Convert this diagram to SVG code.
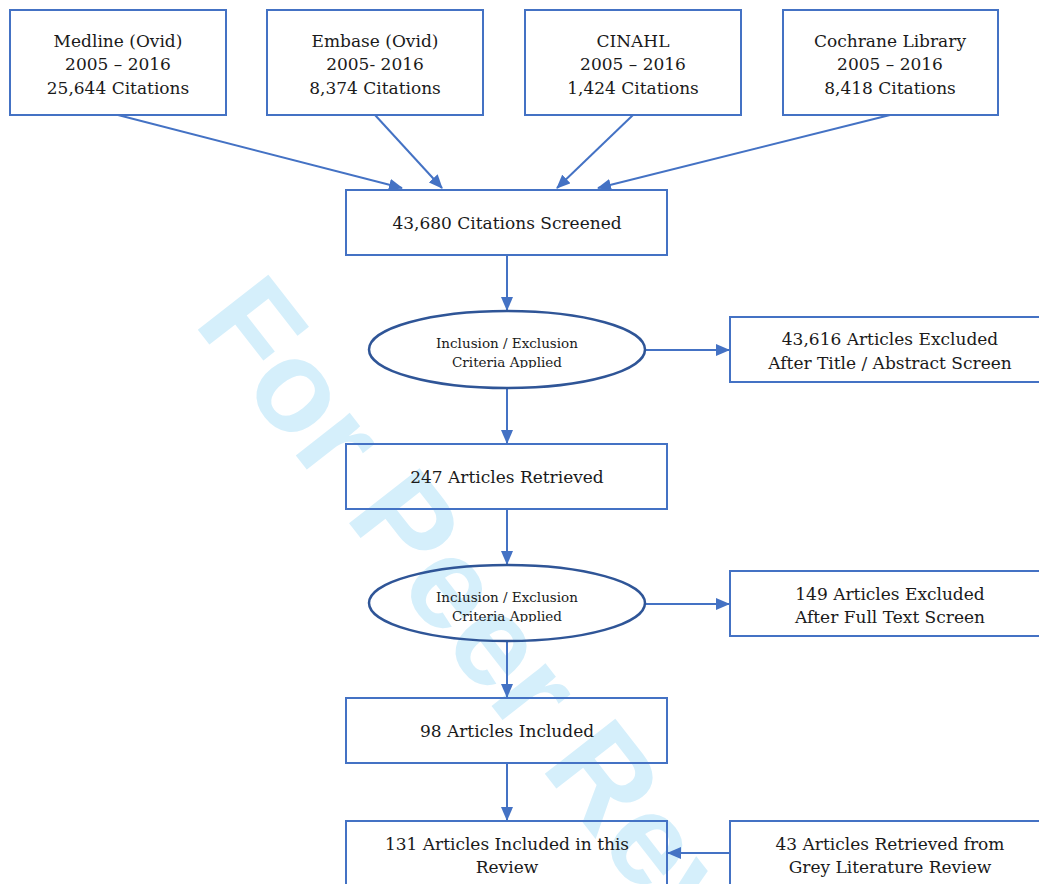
<svg xmlns="http://www.w3.org/2000/svg" width="1039" height="884" viewBox="0 0 1039 884">
  <style>
    .box { fill: none; stroke: #4472C4; stroke-width: 2; }
    .ell { fill: none; stroke: #2F5597; stroke-width: 2.5; }
    .t { font-family: "DejaVu Serif", "Liberation Serif", serif; font-size: 17px; fill: #1a1a1a; text-anchor: middle; }
    .s { font-family: "DejaVu Serif", "Liberation Serif", serif; font-size: 13.5px; fill: #1a1a1a; text-anchor: middle; }
    .con { stroke: #4472C4; stroke-width: 2; fill: none; marker-end: url(#arr); }
    .wm { font-family: "Liberation Sans", Arial, sans-serif; font-weight: bold; font-size: 130px; fill: #D5EFFB; }
  </style>
  <defs>
    <marker id="arr" viewBox="0 0 14 12" refX="13" refY="6" markerWidth="14" markerHeight="12" markerUnits="userSpaceOnUse" orient="auto">
      <path d="M0,0 L14,6 L0,12 Z" fill="#4472C4"/>
    </marker>
    <clipPath id="c1"><rect x="360" y="320" width="300" height="48"/></clipPath>
    <clipPath id="c2"><rect x="360" y="574" width="300" height="48"/></clipPath>
  </defs>
  <rect x="0" y="0" width="1039" height="884" fill="#ffffff"/>
  <text class="wm" transform="translate(192.5,323) rotate(52)">For Peer Review</text>

  <g id="connectors">
    <line class="con" x1="118" y1="115" x2="402" y2="188"/>
    <line class="con" x1="375" y1="115" x2="442" y2="188"/>
    <line class="con" x1="633" y1="115" x2="557" y2="188"/>
    <line class="con" x1="890" y1="115" x2="598" y2="188"/>
    <line class="con" x1="507" y1="255" x2="507" y2="310"/>
    <line class="con" x1="645" y1="350" x2="729" y2="350"/>
    <line class="con" x1="507" y1="388" x2="507" y2="443"/>
    <line class="con" x1="507" y1="509" x2="507" y2="564"/>
    <line class="con" x1="645" y1="604" x2="729" y2="604"/>
    <line class="con" x1="507" y1="641" x2="507" y2="697"/>
    <line class="con" x1="507" y1="763" x2="507" y2="820"/>
    <line class="con" x1="730" y1="853" x2="668" y2="853"/>
  </g>

  <g id="medline">
    <rect class="box" x="10" y="10" width="216" height="105"/>
    <text class="t" x="118" y="47">Medline (Ovid)</text>
    <text class="t" x="118" y="70">2005 – 2016</text>
    <text class="t" x="118" y="94">25,644 Citations</text>
  </g>
  <g id="embase">
    <rect class="box" x="267" y="10" width="216" height="105"/>
    <text class="t" x="375" y="47">Embase (Ovid)</text>
    <text class="t" x="375" y="70">2005- 2016</text>
    <text class="t" x="375" y="94">8,374 Citations</text>
  </g>
  <g id="cinahl">
    <rect class="box" x="525" y="10" width="216" height="105"/>
    <text class="t" x="633" y="47">CINAHL</text>
    <text class="t" x="633" y="70">2005 – 2016</text>
    <text class="t" x="633" y="94">1,424 Citations</text>
  </g>
  <g id="cochrane">
    <rect class="box" x="783" y="10" width="215" height="105"/>
    <text class="t" x="890" y="47">Cochrane Library</text>
    <text class="t" x="890" y="70">2005 – 2016</text>
    <text class="t" x="890" y="94">8,418 Citations</text>
  </g>
  <g id="screened">
    <rect class="box" x="346" y="190" width="321" height="65"/>
    <text class="t" x="507" y="229">43,680 Citations Screened</text>
  </g>
  <g id="criteria1">
    <ellipse class="ell" cx="507" cy="349.5" rx="138" ry="38.5"/>
    <g clip-path="url(#c1)">
      <text class="s" x="507" y="348">Inclusion / Exclusion</text>
      <text class="s" x="507" y="367">Criteria Applied</text>
    </g>
  </g>
  <g id="excluded1">
    <rect class="box" x="730" y="317" width="330" height="65"/>
    <text class="t" x="890" y="345">43,616 Articles Excluded</text>
    <text class="t" x="890" y="369">After Title / Abstract Screen</text>
  </g>
  <g id="retrieved">
    <rect class="box" x="346" y="444" width="321" height="65"/>
    <text class="t" x="507" y="483">247 Articles Retrieved</text>
  </g>
  <g id="criteria2">
    <ellipse class="ell" cx="507" cy="603" rx="138" ry="38"/>
    <g clip-path="url(#c2)">
      <text class="s" x="507" y="602">Inclusion / Exclusion</text>
      <text class="s" x="507" y="621">Criteria Applied</text>
    </g>
  </g>
  <g id="excluded2">
    <rect class="box" x="730" y="571" width="330" height="65"/>
    <text class="t" x="890" y="600">149 Articles Excluded</text>
    <text class="t" x="890" y="623">After Full Text Screen</text>
  </g>
  <g id="included">
    <rect class="box" x="346" y="698" width="321" height="65"/>
    <text class="t" x="507" y="737">98 Articles Included</text>
  </g>
  <g id="final">
    <rect class="box" x="346" y="821" width="321" height="80"/>
    <text class="t" x="507" y="850">131 Articles Included in this</text>
    <text class="t" x="507" y="873">Review</text>
  </g>
  <g id="grey">
    <rect class="box" x="730" y="821" width="330" height="80"/>
    <text class="t" x="890" y="850">43 Articles Retrieved from</text>
    <text class="t" x="890" y="873">Grey Literature Review</text>
  </g>
</svg>
